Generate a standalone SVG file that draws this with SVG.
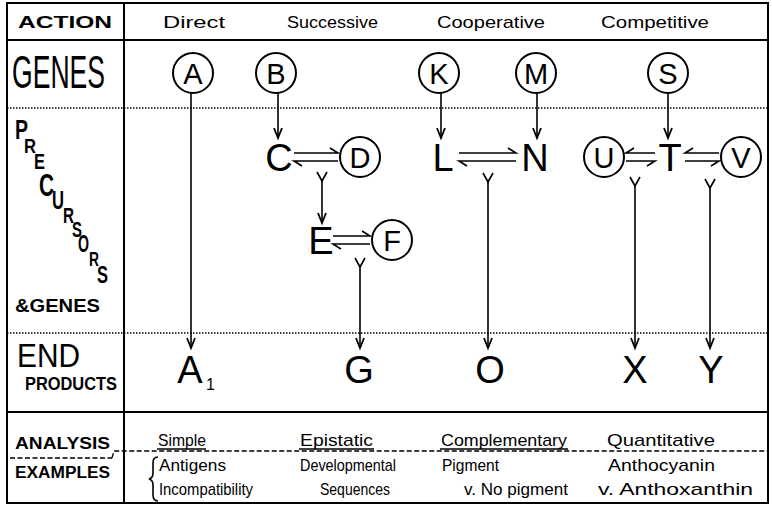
<svg xmlns="http://www.w3.org/2000/svg" width="772" height="508" viewBox="0 0 772 508">
<defs>
<style>
text{font-family:"Liberation Sans","DejaVu Sans",sans-serif;fill:#000}
.hd{font-size:17px}
.lab{font-size:16px;font-weight:bold}
.big{font-size:38px;text-anchor:middle}
.cl{font-size:29px;text-anchor:middle}
.sm{font-size:17px}
.pc{font-weight:bold;font-size:22px}
.ln{stroke:#000;stroke-width:2;fill:none}
.th{stroke:#000;stroke-width:1.6;fill:none}
.dot{stroke:#000;stroke-width:1.5;stroke-dasharray:1.5 1.5;fill:none}
.dsh{stroke:#000;stroke-width:1.3;stroke-dasharray:5 2.5;fill:none}
circle{stroke:#000;stroke-width:2;fill:none}
</style>
<marker id="ah" markerUnits="userSpaceOnUse" markerWidth="14" markerHeight="12" refX="11" refY="5" orient="auto">
<path d="M1,1 L11,5 L1,9" stroke="#000" stroke-width="1.8" fill="none"/>
</marker>
</defs>
<rect width="772" height="508" fill="#fff"/>
<g id="frame">
<rect x="7" y="3" width="761" height="500" class="ln"/>
<line x1="124" y1="3" x2="124" y2="503" class="ln"/>
<line x1="7" y1="40" x2="768" y2="40" class="ln"/>
<line x1="7" y1="108" x2="768" y2="108" class="dot"/>
<line x1="7" y1="333" x2="768" y2="333" class="dot"/>
<line x1="7" y1="412" x2="768" y2="412" class="ln"/>
<line x1="10" y1="458" x2="112" y2="458" class="dsh"/>
<path d="M112,458 L114,451 L768,451" class="dsh"/>
</g>
<g id="labels">
<text x="18" y="28" class="lab" textLength="94" lengthAdjust="spacingAndGlyphs">ACTION</text>
<text x="12" y="88" style="font-size:46px" textLength="93" lengthAdjust="spacingAndGlyphs">GENES</text>
<g id="precursors" class="pc">
<text x="15" y="139" style="font-size:27px" textLength="13" lengthAdjust="spacingAndGlyphs">P</text>
<text x="24" y="153" style="font-size:20px" textLength="12" lengthAdjust="spacingAndGlyphs">R</text>
<text x="34" y="169" style="font-size:22px" textLength="11" lengthAdjust="spacingAndGlyphs">E</text>
<text x="39" y="196" style="font-size:31px" textLength="15" lengthAdjust="spacingAndGlyphs">C</text>
<text x="52" y="209" style="font-size:25px" textLength="12" lengthAdjust="spacingAndGlyphs">U</text>
<text x="63" y="223" style="font-size:22px" textLength="11" lengthAdjust="spacingAndGlyphs">R</text>
<text x="72" y="237" style="font-size:22px" textLength="10" lengthAdjust="spacingAndGlyphs">S</text>
<text x="78" y="252" style="font-size:23px" textLength="11" lengthAdjust="spacingAndGlyphs">O</text>
<text x="89" y="266" style="font-size:21px" textLength="10" lengthAdjust="spacingAndGlyphs">R</text>
<text x="97" y="283" style="font-size:24px" textLength="11" lengthAdjust="spacingAndGlyphs">S</text>
</g>
<text x="15" y="312" style="font-size:18px;font-weight:bold" textLength="85" lengthAdjust="spacingAndGlyphs">&amp;GENES</text>
<text x="17" y="367" style="font-size:33px" textLength="63" lengthAdjust="spacingAndGlyphs">END</text>
<text x="25" y="390" style="font-size:18px;font-weight:bold" textLength="92" lengthAdjust="spacingAndGlyphs">PRODUCTS</text>
<text x="15" y="449" class="lab" textLength="95" lengthAdjust="spacingAndGlyphs">ANALYSIS</text>
<text x="15" y="478" class="lab" textLength="95" lengthAdjust="spacingAndGlyphs">EXAMPLES</text>
</g>
<g id="headers">
<text x="163" y="28" class="hd" textLength="62" lengthAdjust="spacingAndGlyphs">Direct</text>
<text x="287" y="28" class="hd" textLength="91" lengthAdjust="spacingAndGlyphs">Successive</text>
<text x="437" y="28" class="hd" textLength="108" lengthAdjust="spacingAndGlyphs">Cooperative</text>
<text x="601" y="28" class="hd" textLength="108" lengthAdjust="spacingAndGlyphs">Competitive</text>
</g>
<g id="gene-A"><circle cx="193" cy="73" r="20"/><text x="193" y="84" class="cl">A</text></g>
<g id="gene-B"><circle cx="276" cy="73" r="20"/><text x="276" y="84" class="cl">B</text></g>
<g id="gene-K"><circle cx="439" cy="73" r="20"/><text x="439" y="84" class="cl">K</text></g>
<g id="gene-M"><circle cx="536" cy="73" r="20"/><text x="536" y="84" class="cl">M</text></g>
<g id="gene-S"><circle cx="668" cy="73" r="20"/><text x="668" y="84" class="cl">S</text></g>
<g id="C"><text x="279" y="171" class="big">C</text></g>
<g id="D"><circle cx="360" cy="157" r="20"/><text x="360" y="168" class="cl">D</text></g>
<g id="E"><text x="321" y="254" class="big">E</text></g>
<g id="F"><circle cx="392" cy="240" r="20"/><text x="392" y="251" class="cl">F</text></g>
<g id="L"><text x="443" y="171" class="big">L</text></g>
<g id="N"><text x="535" y="171" class="big">N</text></g>
<g id="U"><circle cx="604" cy="157" r="20"/><text x="604" y="168" class="cl">U</text></g>
<g id="T"><text x="670" y="171" class="big">T</text></g>
<g id="V"><circle cx="741" cy="157" r="20"/><text x="741" y="168" class="cl">V</text></g>
<g id="A1"><text x="190" y="383" class="big">A</text><text x="206" y="390" style="font-size:16px">1</text></g>
<g id="G"><text x="359" y="383" class="big">G</text></g>
<g id="O"><text x="490" y="383" class="big">O</text></g>
<g id="X"><text x="635" y="383" class="big">X</text></g>
<g id="Y"><text x="711" y="383" class="big">Y</text></g>
<g id="connectors">
<line x1="191" y1="93" x2="191" y2="348" class="th" marker-end="url(#ah)"/>
<line x1="278" y1="93" x2="278" y2="138" class="th" marker-end="url(#ah)"/>
<line x1="441" y1="93" x2="441" y2="138" class="th" marker-end="url(#ah)"/>
<line x1="537" y1="93" x2="537" y2="138" class="th" marker-end="url(#ah)"/>
<line x1="668" y1="93" x2="668" y2="138" class="th" marker-end="url(#ah)"/>
<path d="M317,172 L322,181 L327,172" class="th"/>
<line x1="322" y1="181" x2="322" y2="223" class="th" marker-end="url(#ah)"/>
<path d="M355,258 L360,267 L365,258" class="th"/>
<line x1="360" y1="267" x2="360" y2="348" class="th" marker-end="url(#ah)"/>
<path d="M483,173 L488,182 L493,173" class="th"/>
<line x1="488" y1="182" x2="488" y2="348" class="th" marker-end="url(#ah)"/>
<path d="M630,177 L635,186 L640,177" class="th"/>
<line x1="635" y1="186" x2="635" y2="348" class="th" marker-end="url(#ah)"/>
<path d="M705,179 L710,188 L715,179" class="th"/>
<line x1="710" y1="188" x2="710" y2="348" class="th" marker-end="url(#ah)"/>
<path d="M294,153 L338,153 L330,148 M338,161 L294,161 L302,166" class="th"/>
<path d="M333,236 L370,236 L362,231 M370,244 L333,244 L341,249" class="th"/>
<path d="M459,153 L516,153 L508,148 M516,161 L459,161 L467,166" class="th"/>
<path d="M655,153 L626,153 L634,148 M626,161 L655,161 L647,166" class="th"/>
<path d="M719,153 L685,153 L693,148 M685,161 L719,161 L711,166" class="th"/>
</g>
<g id="table-bottom">
<text x="158" y="446" class="sm" textLength="48" lengthAdjust="spacingAndGlyphs">Simple</text>
<line x1="157" y1="449" x2="206" y2="449" class="th"/>
<text x="300" y="446" class="sm" textLength="73" lengthAdjust="spacingAndGlyphs">Epistatic</text>
<line x1="299" y1="449" x2="374" y2="449" class="th"/>
<text x="441" y="446" class="sm" textLength="126" lengthAdjust="spacingAndGlyphs">Complementary</text>
<line x1="440" y1="449" x2="568" y2="449" class="th"/>
<text x="607" y="446" class="sm" textLength="108" lengthAdjust="spacingAndGlyphs">Quantitative</text>
<path d="M158,457 Q153,457 153,463 L153,473 Q153,478 149,479 Q153,480 153,485 L153,495 Q153,501 158,501" class="th"/>
<text x="159" y="471" class="sm" textLength="67" lengthAdjust="spacingAndGlyphs">Antigens</text>
<text x="300" y="471" class="sm" textLength="96" lengthAdjust="spacingAndGlyphs">Developmental</text>
<text x="442" y="471" class="sm" textLength="57" lengthAdjust="spacingAndGlyphs">Pigment</text>
<text x="608" y="471" class="sm" textLength="107" lengthAdjust="spacingAndGlyphs">Anthocyanin</text>
<text x="159" y="495" class="sm" textLength="94" lengthAdjust="spacingAndGlyphs">Incompatibility</text>
<text x="320" y="495" class="sm" textLength="70" lengthAdjust="spacingAndGlyphs">Sequences</text>
<text x="464" y="495" class="sm" textLength="104" lengthAdjust="spacingAndGlyphs">v. No pigment</text>
<text x="598" y="495" class="sm" textLength="155" lengthAdjust="spacingAndGlyphs">v. Anthoxanthin</text>
</g>
</svg>
